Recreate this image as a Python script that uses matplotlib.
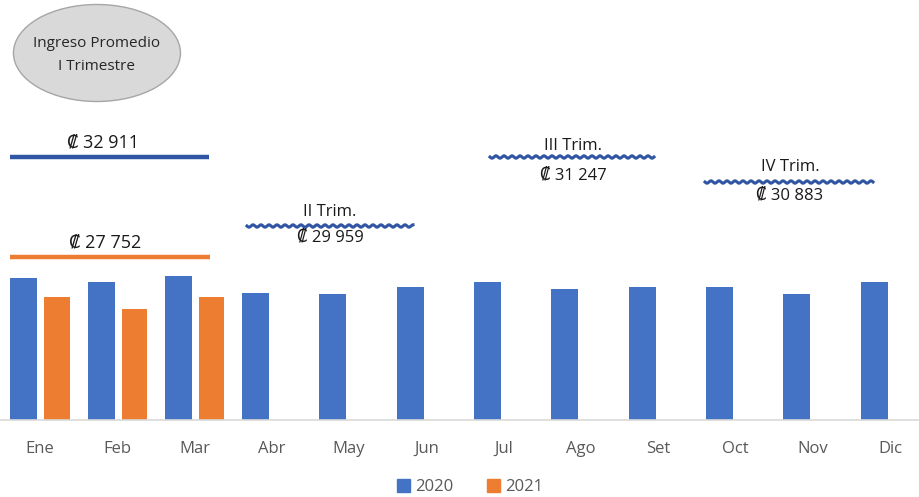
import numpy as np
import matplotlib.pyplot as plt
from matplotlib.patches import Ellipse

plt.rcParams['font.family'] = ['Open Sans', 'DejaVu Sans']

# data
meses = ["Ene", "Feb", "Mar", "Abr", "May", "Jun", "Jul", "Ago", "Set", "Oct", "Nov", "Dic"]
ingreso_2020 = [33100, 32100, 33533, 29580, 29345, 30952, 32200, 30560, 30981, 31030, 29420, 32199]
ingreso_2021 = [28700, 25850, 28706]
promedios = ["₡ 32 911", "₡ 27 752", "₡ 29 959", "₡ 31 247", "₡ 30 883"]
trimestres = ["II Trim.", "III Trim.", "IV Trim."]

azul = "#4472c4"
naranja = "#ed7d31"
gris = "#595959"

fig = plt.figure(figsize=(9.2, 4.97), dpi=100)
ax = fig.add_axes([0, 77 / 497, 1, 420 / 497])

x = np.arange(len(meses))
w = 0.35
ax.bar(x - 0.21, ingreso_2020, w, color=azul, label="2020")
ax.bar(x[:len(ingreso_2021)] + 0.22, ingreso_2021, 0.33, color=naranja, label="2021")

ax.set_xlim(-0.517, 11.384)
ax.set_ylim(0, 97810)
ax.set_xticks(x)
ax.set_xticklabels(meses, fontsize=12, color=gris)
ax.tick_params(axis="x", length=0, pad=15)
ax.set_yticks([])
for s in ["top", "right", "left"]:
    ax.spines[s].set_visible(False)
ax.spines["bottom"].set_color("#d9d9d9")
ax.spines["bottom"].set_linewidth(1.2)

# helpers: pixel (from top of figure) to axes y, pixel x to data x
def yf(py):
    return (420 - py) / 420

def xd(px):
    return (px - 40) / 77.3

tr = ax.get_xaxis_transform()

# ellipse label
el = Ellipse((xd(97), yf(53)), width=167 / 77.3, height=97 / 420, transform=tr,
             facecolor="#d9d9d9", edgecolor="#a6a6a6", lw=1, clip_on=False)
ax.add_patch(el)
ax.text(xd(97), yf(55), "Ingreso Promedio\nI Trimestre", transform=tr, ha="center", va="center",
        fontsize=11, color="#262626", linespacing=1.65)

# I trimestre lines
ax.plot([xd(10), xd(209)], [yf(157), yf(157)], transform=tr, color="#2f55a4", lw=3.2,
        solid_capstyle="butt", clip_on=False)
ax.text(xd(103), yf(151), promedios[0], transform=tr, ha="center", va="bottom", fontsize=13, color="#1a1a1a")
ax.plot([xd(10), xd(210)], [yf(257), yf(257)], transform=tr, color=naranja, lw=3.2,
        solid_capstyle="butt", clip_on=False)
ax.text(xd(105), yf(251), promedios[1], transform=tr, ha="center", va="bottom", fontsize=13, color="#1a1a1a")

# wavy lines for other quarters: x0, x1, line y, text x, label y, value y (pixels)
wavy = [(247, 413, 226, 330, 212, 238), (490, 654, 157, 573, 146, 175), (705, 873, 182, 790, 167, 195)]
for (x0, x1, py, cx, ly, vy), lab, val in zip(wavy, trimestres, promedios[2:]):
    px = np.linspace(x0, x1, 400)
    wy = py + 1.2 * np.sin((px - x0) / 8.0 * 2 * np.pi)
    ax.plot(xd(px), yf(wy), transform=tr, color="#2f55a4", lw=2.2, clip_on=False)
    ax.text(xd(cx), yf(ly), lab, transform=tr, ha="center", va="center", fontsize=12, color="#1a1a1a")
    ax.text(xd(cx), yf(vy), val, transform=tr, ha="center", va="center", fontsize=12, color="#1a1a1a")

handles = [plt.Rectangle((0, 0), 1, 1, color=azul), plt.Rectangle((0, 0), 1, 1, color=naranja)]
fig.legend(handles, ["2020", "2021"], loc="center", bbox_to_anchor=(470 / 920, 1 - 487 / 497),
           ncol=2, frameon=False, fontsize=12, labelcolor=gris, handlelength=0.8, handleheight=0.8,
           handletextpad=0.3, columnspacing=2.0)

fig.savefig("out.png", dpi=100)
